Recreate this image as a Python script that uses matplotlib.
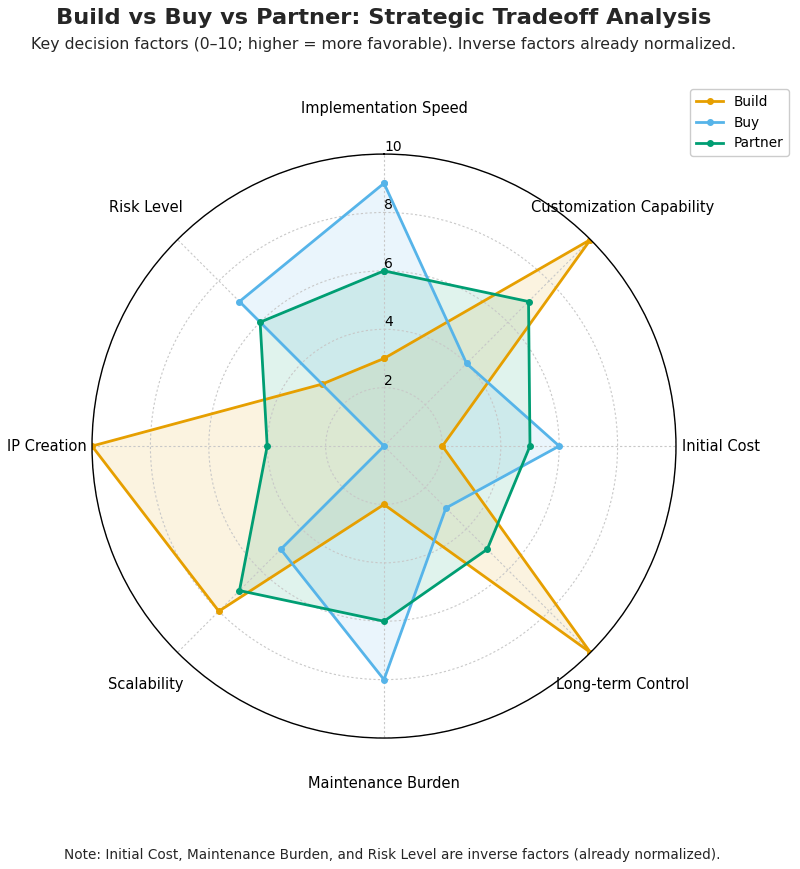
import numpy as np
import matplotlib.pyplot as plt

categories = ["Implementation Speed", "Customization Capability", "Initial Cost",
              "Long-term Control", "Maintenance Burden", "Scalability",
              "IP Creation", "Risk Level"]
build = [3, 10, 2, 10, 2, 8, 10, 3]
buy = [9, 4, 6, 3, 8, 5, 0, 7]
partner = [6, 7, 5, 5, 6, 7, 4, 6]
series = [("Build", build, "#E69F00"), ("Buy", buy, "#56B4E9"), ("Partner", partner, "#009E73")]

n = len(categories)
angles = np.linspace(0, 2 * np.pi, n, endpoint=False).tolist()
angles_c = angles + angles[:1]

fig = plt.figure(figsize=(8, 8.69), dpi=100)
ax = fig.add_axes([0.115, 0.1507, 0.73, 0.672], polar=True)
ax.set_theta_offset(np.pi / 2)
ax.set_theta_direction(-1)

for name, vals, col in series:
    v = vals + vals[:1]
    ax.plot(angles_c, v, color=col, lw=2, marker="o", ms=4, label=name)
    ax.fill(angles_c, v, color=col, alpha=0.12)

ax.set_ylim(0, 10)
ax.set_yticks([2, 4, 6, 8, 10])
ax.set_yticklabels(["2", "4", "6", "8", "10"], fontsize=10)
ax.set_rlabel_position(0)
ax.set_xticks(angles)
ax.set_xticklabels(categories, fontsize=10.5)
ax.tick_params(axis="x", pad=22)
ax.grid(color="#c8c8c8", linestyle=(0, (2, 2)), linewidth=0.8)
ax.spines["polar"].set_color("black")
ax.spines["polar"].set_linewidth(1.0)

fig.legend(loc="upper right", bbox_to_anchor=(0.995, 0.905), fontsize=9.8, framealpha=1)

fig.text(0.48, 0.979, "Build vs Buy vs Partner: Strategic Tradeoff Analysis",
         ha="center", va="center", fontsize=16.2, fontweight="bold", color="#262626")
fig.text(0.48, 0.949, "Key decision factors (0\u201310; higher = more favorable). Inverse factors already normalized.",
         ha="center", va="center", fontsize=11.3, color="#262626")
fig.text(0.49, 0.016, "Note: Initial Cost, Maintenance Burden, and Risk Level are inverse factors (already normalized).",
         ha="center", va="center", fontsize=9.8, color="#262626")

fig.savefig("out.png", dpi=100)
